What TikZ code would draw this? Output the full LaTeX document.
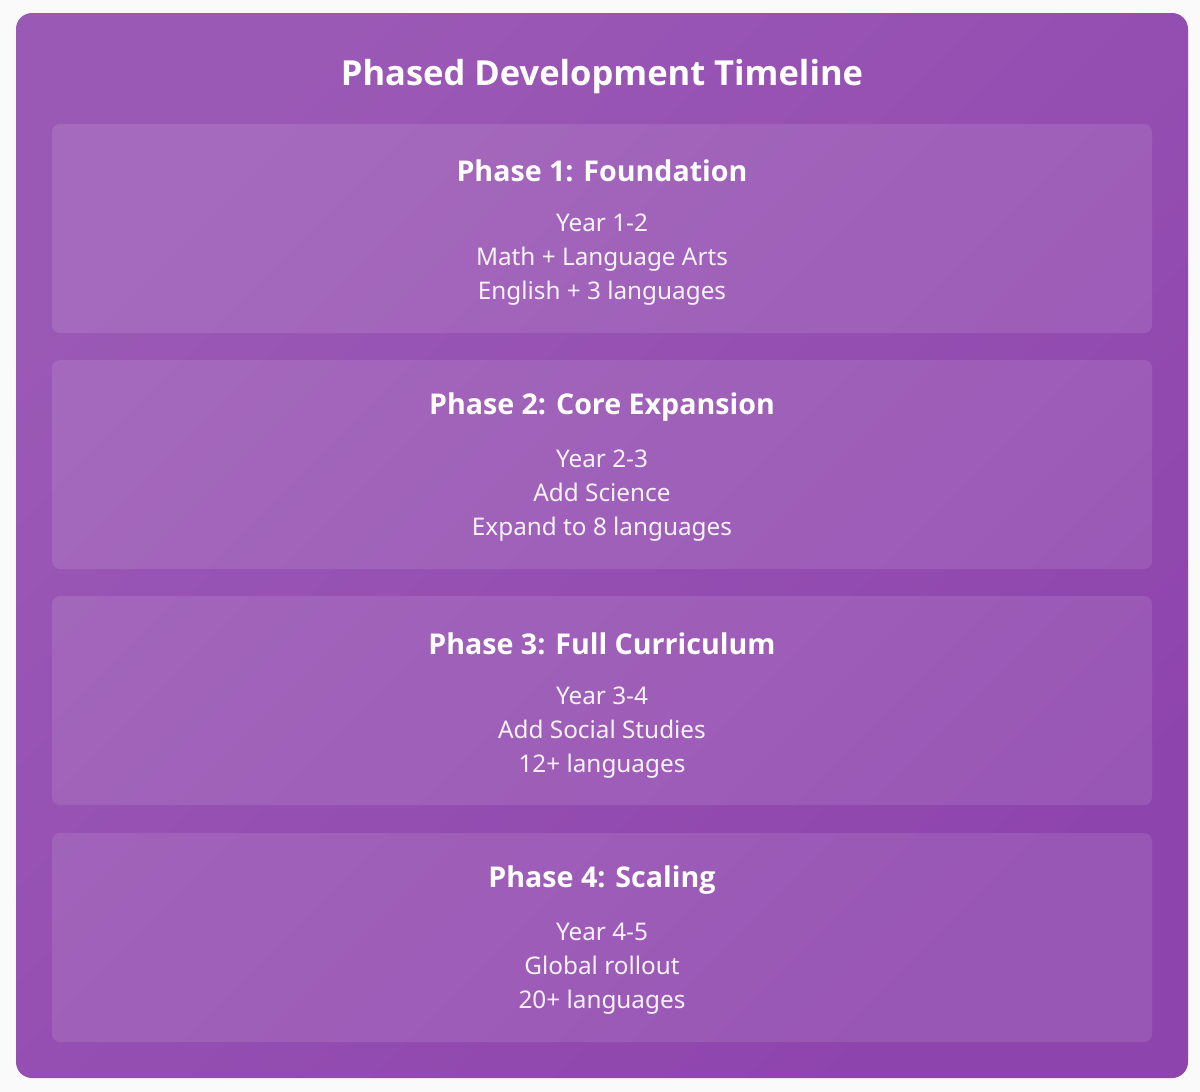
\documentclass[tikz,border=0pt]{standalone}
\usepackage{fontspec}
\setmainfont{Noto Sans}
\newfontfamily\headfont{Open Sans}
\definecolor{pagebg}{HTML}{FAFAFA}
\definecolor{purpleA}{HTML}{9B59B6}
\definecolor{purpleB}{HTML}{8E44AD}
\begin{document}
\begin{tikzpicture}[x=1pt, y=-1pt,
  phasebox/.style={draw=none, fill=white, fill opacity=0.1, rounded corners=8pt, minimum width=1100pt, minimum height=209pt, inner sep=0pt},
  heading/.style={text=white, font=\fontsize{28.6}{32}\selectfont\headfont\bfseries},
  body/.style={text=white, text opacity=0.92, align=center, font=\fontsize{24.3}{34}\selectfont}]
\useasboundingbox (0,0) rectangle (1200,1092);
\fill[pagebg] (0,0) rectangle (1200,1092);
\shade[rounded corners=16pt, left color=purpleA, right color=purpleB, shading angle=45] (16,13) rectangle (1188,1078);
\node[text=white, font=\fontsize{34.5}{40}\selectfont\headfont\bfseries] (title) at (602,77) {Phased Development Timeline};
% phase boxes
\node[phasebox] (p1) at (602,228.5) {};
\node[phasebox] (p2) at (602,464.5) {};
\node[phasebox] (p3) at (602,700.5) {};
\node[phasebox] (p4) at (602,937.5) {};
% headings
\node[heading] (h1) at (602,171) {Phase 1: Foundation};
\node[heading] (h2) at (602,407) {Phase 2: Core Expansion};
\node[heading] (h3) at (602,644) {Phase 3: Full Curriculum};
\node[heading] (h4) at (602,880) {Phase 4: Scaling};
% details
\node[body] (d1) at (602,260) {Year 1-2\\Math + Language Arts\\English + 3 languages};
\node[body] (d2) at (602,496) {Year 2-3\\Add Science\\Expand to 8 languages};
\node[body] (d3) at (602,733) {Year 3-4\\Add Social Studies\\12+ languages};
\node[body] (d4) at (602,969) {Year 4-5\\Global rollout\\20+ languages};
\end{tikzpicture}
\end{document}
